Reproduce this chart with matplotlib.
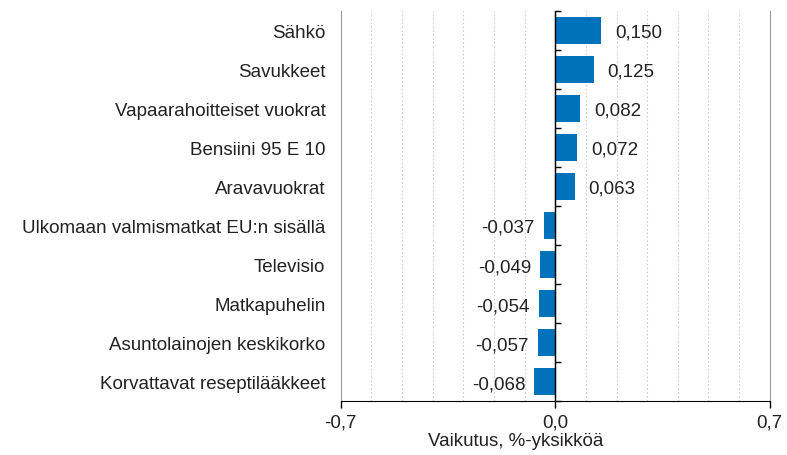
import numpy as np
import matplotlib.pyplot as plt

plt.rcParams['font.family'] = ['Liberation Sans', 'DejaVu Sans']

categories = ["Sähkö", "Savukkeet", "Vapaarahoitteiset vuokrat", "Bensiini 95 E 10",
              "Aravavuokrat", "Ulkomaan valmismatkat EU:n sisällä", "Televisio",
              "Matkapuhelin", "Asuntolainojen keskikorko", "Korvattavat reseptilääkkeet"]
values = [0.150, 0.125, 0.082, 0.072, 0.063, -0.037, -0.049, -0.054, -0.057, -0.068]
xticks = [-0.7, 0.0, 0.7]
xticklabels = ["-0,7", "0,0", "0,7"]

FS = 13.5
TC = '#222222'

fig = plt.figure(figsize=(7.87, 4.56), dpi=100)
ax = fig.add_axes([0.433, 0.118, 0.545, 0.856])

y = np.arange(len(categories))
ax.barh(y, values, height=0.69, color='#0072BC', zorder=3)

# dotted gridlines every 0.1, solid at the edges
for g in np.arange(-6, 7) / 10:
    if abs(g) > 1e-9:
        ax.axvline(g, color='#cccccc', lw=0.8, ls=(0, (1.5, 2)), zorder=1)
ax.axvline(0, color='black', lw=1.0, zorder=4)

ax.set_xlim(-0.7, 0.7)
ax.set_ylim(len(categories) - 0.5, -0.5)
ax.set_xticks(xticks)
ax.set_xticklabels(xticklabels, fontsize=FS, color=TC)
ax.tick_params(axis='x', length=5, width=1, color='black', pad=4)
ax.set_yticks(y)
ax.set_yticklabels(categories, fontsize=FS, color=TC)
ax.tick_params(axis='y', length=0, pad=11)

ax.spines['top'].set_visible(False)
ax.spines['left'].set_color('#9a9a9a')
ax.spines['right'].set_color('#9a9a9a')
ax.spines['bottom'].set_color('black')
ax.spines['bottom'].set_zorder(5)

# small category-boundary ticks on the zero line
sec = ax.secondary_yaxis(0.5)
sec.set_yticks(np.arange(len(categories) + 1) - 0.5)
sec.set_yticklabels([])
sec.tick_params(length=4, width=1, color='black')
sec.spines['left'].set_visible(False)

ax.set_xlabel("Vaikutus, %-yksikköä", fontsize=FS, color=TC, va='center')
ax.xaxis.set_label_coords(0.408, -0.10)

for yi, v in zip(y, values):
    txt = f"{v:.3f}".replace('.', ',')
    if v >= 0:
        ax.text(v + 0.045, yi + 0.05, txt, ha='left', va='center', fontsize=FS, color=TC)
    else:
        ax.text(v - 0.03, yi + 0.05, txt, ha='right', va='center', fontsize=FS, color=TC)

fig.savefig('out.png', dpi=100)
